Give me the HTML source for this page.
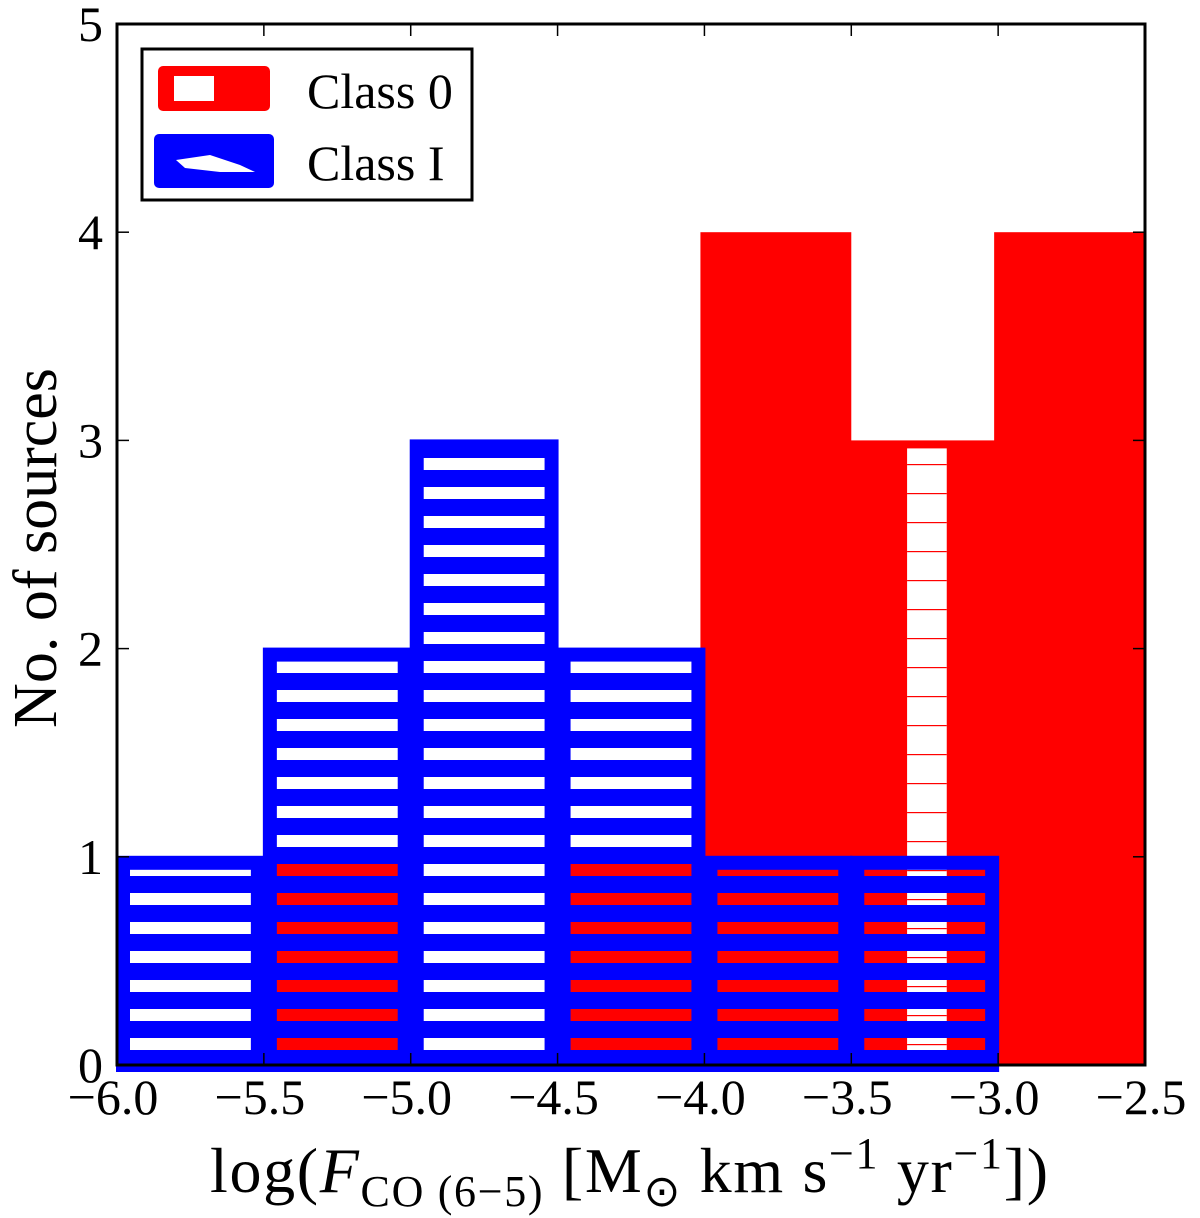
<!DOCTYPE html>
<html><head><meta charset="utf-8"><style>
html,body{margin:0;padding:0;background:#fff;width:1200px;height:1218px;overflow:hidden}
svg text{font-family:"Liberation Serif",serif;fill:#000}
</style></head><body>
<svg id="chart" width="1200" height="1218" viewBox="0 0 1200 1218" xmlns="http://www.w3.org/2000/svg">
<defs>
<pattern id="bluestripe" patternUnits="userSpaceOnUse" x="0" y="6" width="40" height="29">
<rect x="0" y="0" width="40" height="17" fill="#0000ff"/>
</pattern>
<pattern id="redline" patternUnits="userSpaceOnUse" x="0" y="0" width="40" height="29">
<rect x="0" y="0" width="40" height="1.2" fill="#ff0000"/>
</pattern>
</defs>
<g id="plot"></g>
</svg>
<script>
const binEdges = [-6.0, -5.5, -5.0, -4.5, -4.0, -3.5, -3.0, -2.5];
const class0Counts = [0, 1, 0, 1, 4, 3, 4];
const class1Counts = [1, 2, 3, 2, 1, 1, 0];
const xTicks = [-6.0, -5.5, -5.0, -4.5, -4.0, -3.5, -3.0, -2.5];
const xTickLabels = ["\u22126.0","\u22125.5","\u22125.0","\u22124.5","\u22124.0","\u22123.5","\u22123.0","\u22122.5"];
const yTicks = [0, 1, 2, 3, 4, 5];
const yTickLabels = ["0","1","2","3","4","5"];

const X0=117, X1=1145, Y0=1065, Y1=24;
const xs = v => X0 + (v - (-6.0)) / 3.5 * (X1 - X0);
const ys = v => Y0 - v / 5 * (Y0 - Y1);
const NS = "http://www.w3.org/2000/svg";
const g = document.getElementById('plot');
function mk(tag, attrs, parent){const e=document.createElementNS(NS,tag);for(const k in attrs)e.setAttribute(k,attrs[k]);(parent||g).appendChild(e);return e;}

class0Counts.forEach((c,i)=>{
  if(c<=0) return;
  const r = mk('rect',{x:xs(binEdges[i])-4,y:ys(c),width:xs(binEdges[i+1])-xs(binEdges[i])+4,height:ys(0)-ys(c),fill:'#ff0000'});
  
  
  if(c===3){
    const bw = xs(binEdges[i+1])-xs(binEdges[i]);
    const w = mk('rect',{x:xs(binEdges[i])+bw*0.38,y:ys(c)+8,width:bw*0.27,height:ys(0)-ys(c)-20,fill:'#fff'});
    
    
    const l = mk('rect',{x:xs(binEdges[i])+bw*0.38,y:ys(c)+8,width:bw*0.27,height:ys(0)-ys(c)-20,fill:'url(#redline)'});
    
    
  }
});
class1Counts.forEach((c,i)=>{
  if(c<=0) return;
  const x=xs(binEdges[i]), w=xs(binEdges[i+1])-x, y=ys(c), h=ys(0)-y;
  const r = mk('rect',{x:x+6,y:y+6,width:w-12,height:h-6,fill:'url(#bluestripe)',stroke:'#0000ff','stroke-width':14});
  
  
});
const fr = mk('rect',{x:X0,y:Y1,width:X1-X0,height:Y0-Y1,fill:'none',stroke:'#000','stroke-width':3});


xTicks.forEach((v,i)=>{
  mk('line',{x1:xs(v),x2:xs(v),y1:Y0,y2:Y0-12,stroke:'#000','stroke-width':1.5});
  mk('line',{x1:xs(v),x2:xs(v),y1:Y1,y2:Y1+12,stroke:'#000','stroke-width':1.5});
  const t = mk('text',{x:xs(v)-4,y:1114,'font-size':50,'text-anchor':'middle'});
  t.textContent = xTickLabels[i];
  
  
});
yTicks.forEach((v,i)=>{
  mk('line',{x1:X0,x2:X0+12,y1:ys(v),y2:ys(v),stroke:'#000','stroke-width':1.5});
  mk('line',{x1:X1,x2:X1-12,y1:ys(v),y2:ys(v),stroke:'#000','stroke-width':1.5});
  const t = mk('text',{x:103,y:ys(v)+17,'font-size':50,'text-anchor':'end'});
  t.textContent = yTickLabels[i];
  
  
});
</script>
<svg style="position:absolute;left:0;top:0" width="1200" height="1218" xmlns="http://www.w3.org/2000/svg">
<text transform="translate(56,548) rotate(-90)" text-anchor="middle" font-size="62" font-family="Liberation Serif, serif">No. of sources</text>
<text x="210" y="1192" font-size="64" font-family="Liberation Serif, serif" textLength="838">log(<tspan font-style="italic">F</tspan><tspan font-size="44" dy="14">CO (6−5)</tspan><tspan dy="-14"> [M</tspan><tspan font-size="44" dy="14">⊙</tspan><tspan dy="-14"> km s</tspan><tspan font-size="44" dy="-24">−1</tspan><tspan dy="24"> yr</tspan><tspan font-size="44" dy="-24">−1</tspan><tspan dy="24">])</tspan></text>
<g>
<rect x="142" y="49" width="330" height="151" fill="#fff" stroke="#000" stroke-width="3"/>
<rect x="158" y="66" width="112" height="45" rx="5" fill="#ff0000"/>
<rect x="174" y="76" width="40" height="25" fill="#fff"/>
<text x="307" y="108" font-size="50" font-family="Liberation Serif, serif">Class 0</text>
<rect x="154" y="134" width="120" height="54" rx="5" fill="#0000ff"/>
<polygon points="176,160 210,155 240,165 255,172 220,172 185,168" fill="#fff"/>
<text x="307" y="180" font-size="50" font-family="Liberation Serif, serif">Class I</text>
</g>
</svg>
</body></html>
